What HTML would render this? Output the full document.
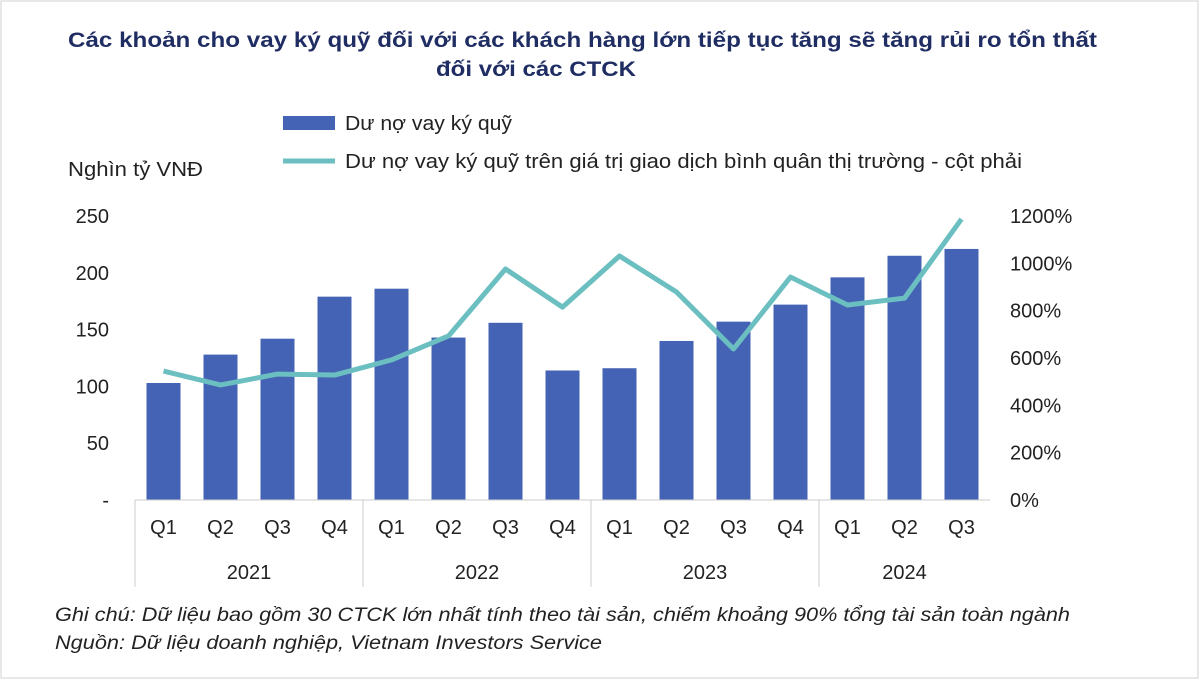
<!DOCTYPE html>
<html><head><meta charset="utf-8"><style>
body{margin:0;background:#fff;}
svg{display:block;font-family:"Liberation Sans",sans-serif;}
</style></head><body>
<svg width="1200" height="680" viewBox="0 0 1200 680">
<rect x="1" y="1" width="1197" height="677" fill="#fff" stroke="#d0d0d0"/>
<text x="68" y="47" font-size="21" font-weight="bold" fill="#1f2d63" textLength="1029" lengthAdjust="spacingAndGlyphs">Các khoản cho vay ký quỹ đối với các khách hàng lớn tiếp tục tăng sẽ tăng rủi ro tổn thất</text>
<text x="436" y="76" font-size="21" font-weight="bold" fill="#1f2d63" textLength="200" lengthAdjust="spacingAndGlyphs">đối với các CTCK</text>
<rect x="283" y="116" width="52" height="14" fill="#4463b5"/>
<text x="345" y="130" font-size="20" fill="#222" textLength="167" lengthAdjust="spacingAndGlyphs">Dư nợ vay ký quỹ</text>
<line x1="283" y1="161" x2="335" y2="161" stroke="#6cbfc0" stroke-width="5"/>
<text x="345" y="168" font-size="20" fill="#222" textLength="677" lengthAdjust="spacingAndGlyphs">Dư nợ vay ký quỹ trên giá trị giao dịch bình quân thị trường - cột phải</text>
<text x="68" y="176" font-size="20" fill="#222" textLength="135" lengthAdjust="spacingAndGlyphs">Nghìn tỷ VNĐ</text>
<g id="g"></g>
<text x="55" y="621" font-size="19" font-style="italic" fill="#222" textLength="1015" lengthAdjust="spacingAndGlyphs">Ghi chú: Dữ liệu bao gồm 30 CTCK lớn nhất tính theo tài sản, chiếm khoảng 90% tổng tài sản toàn ngành</text>
<text x="55" y="649" font-size="19" font-style="italic" fill="#222" textLength="547" lengthAdjust="spacingAndGlyphs">Nguồn: Dữ liệu doanh nghiệp, Vietnam Investors Service</text>
</svg>
<script>
const quarters=["Q1","Q2","Q3","Q4","Q1","Q2","Q3","Q4","Q1","Q2","Q3","Q4","Q1","Q2","Q3"];
const years=["2021","2022","2023","2024"];
const yearCounts=[4,4,4,3];
const marginLoans=[103,128,142,179,186,143,156,114,116,140,157,172,196,215,221];
const ratioPct=[545,486,532,528,592,693,976,815,1031,879,638,942,824,853,1187];
const leftTicks=[0,50,100,150,200,250];
const leftTickLabels=["-","50","100","150","200","250"];
const rightTicks=[0,200,400,600,800,1000,1200];
const NS="http://www.w3.org/2000/svg";
const g=document.getElementById('g');
const x0=135,slot=57,y0=500,yTop=216;
const yL=v=>y0-(v/250)*(y0-yTop);
const yR=v=>y0-(v/1200)*(y0-yTop);
const xc=i=>x0+slot*(i+0.5);
function mk(t,a){const e=document.createElementNS(NS,t);for(const k in a)e.setAttribute(k,a[k]);g.appendChild(e);return e;}
leftTicks.forEach((v,i)=>{const t=mk('text',{x:109,y:yL(v)+7,'text-anchor':'end','font-size':20,fill:'#222'});t.textContent=leftTickLabels[i];

});
rightTicks.forEach(v=>{const t=mk('text',{x:1010,y:yR(v)+7,'font-size':20,fill:'#222'});t.textContent=v+'%';

});
marginLoans.forEach((v,i)=>{const r=mk('rect',{x:xc(i)-17,y:yL(v),width:34,height:y0-yL(v),fill:'#4463b5'});

});
const ax=mk('line',{x1:x0,y1:y0,x2:x0+slot*quarters.length,y2:y0,stroke:'#ccc'});


quarters.forEach((q,i)=>{const t=mk('text',{x:xc(i),y:534,'text-anchor':'middle','font-size':20,fill:'#222'});t.textContent=q;

});
let s=0;
const sep=i=>{const l=mk('line',{x1:x0+slot*i,y1:y0,x2:x0+slot*i,y2:587,stroke:'#ccc'});

};
sep(0);
years.forEach((y,k)=>{const n=yearCounts[k];const t=mk('text',{x:x0+slot*(s+n/2),y:579,'text-anchor':'middle','font-size':20,fill:'#222'});t.textContent=y;


s+=n;if(k<years.length-1)sep(s);});
const p=mk('polyline',{points:ratioPct.map((v,i)=>xc(i)+','+yR(v)).join(' '),fill:'none',stroke:'#6cbfc0','stroke-width':5,'stroke-linejoin':'round'});


</script>
</body></html>
